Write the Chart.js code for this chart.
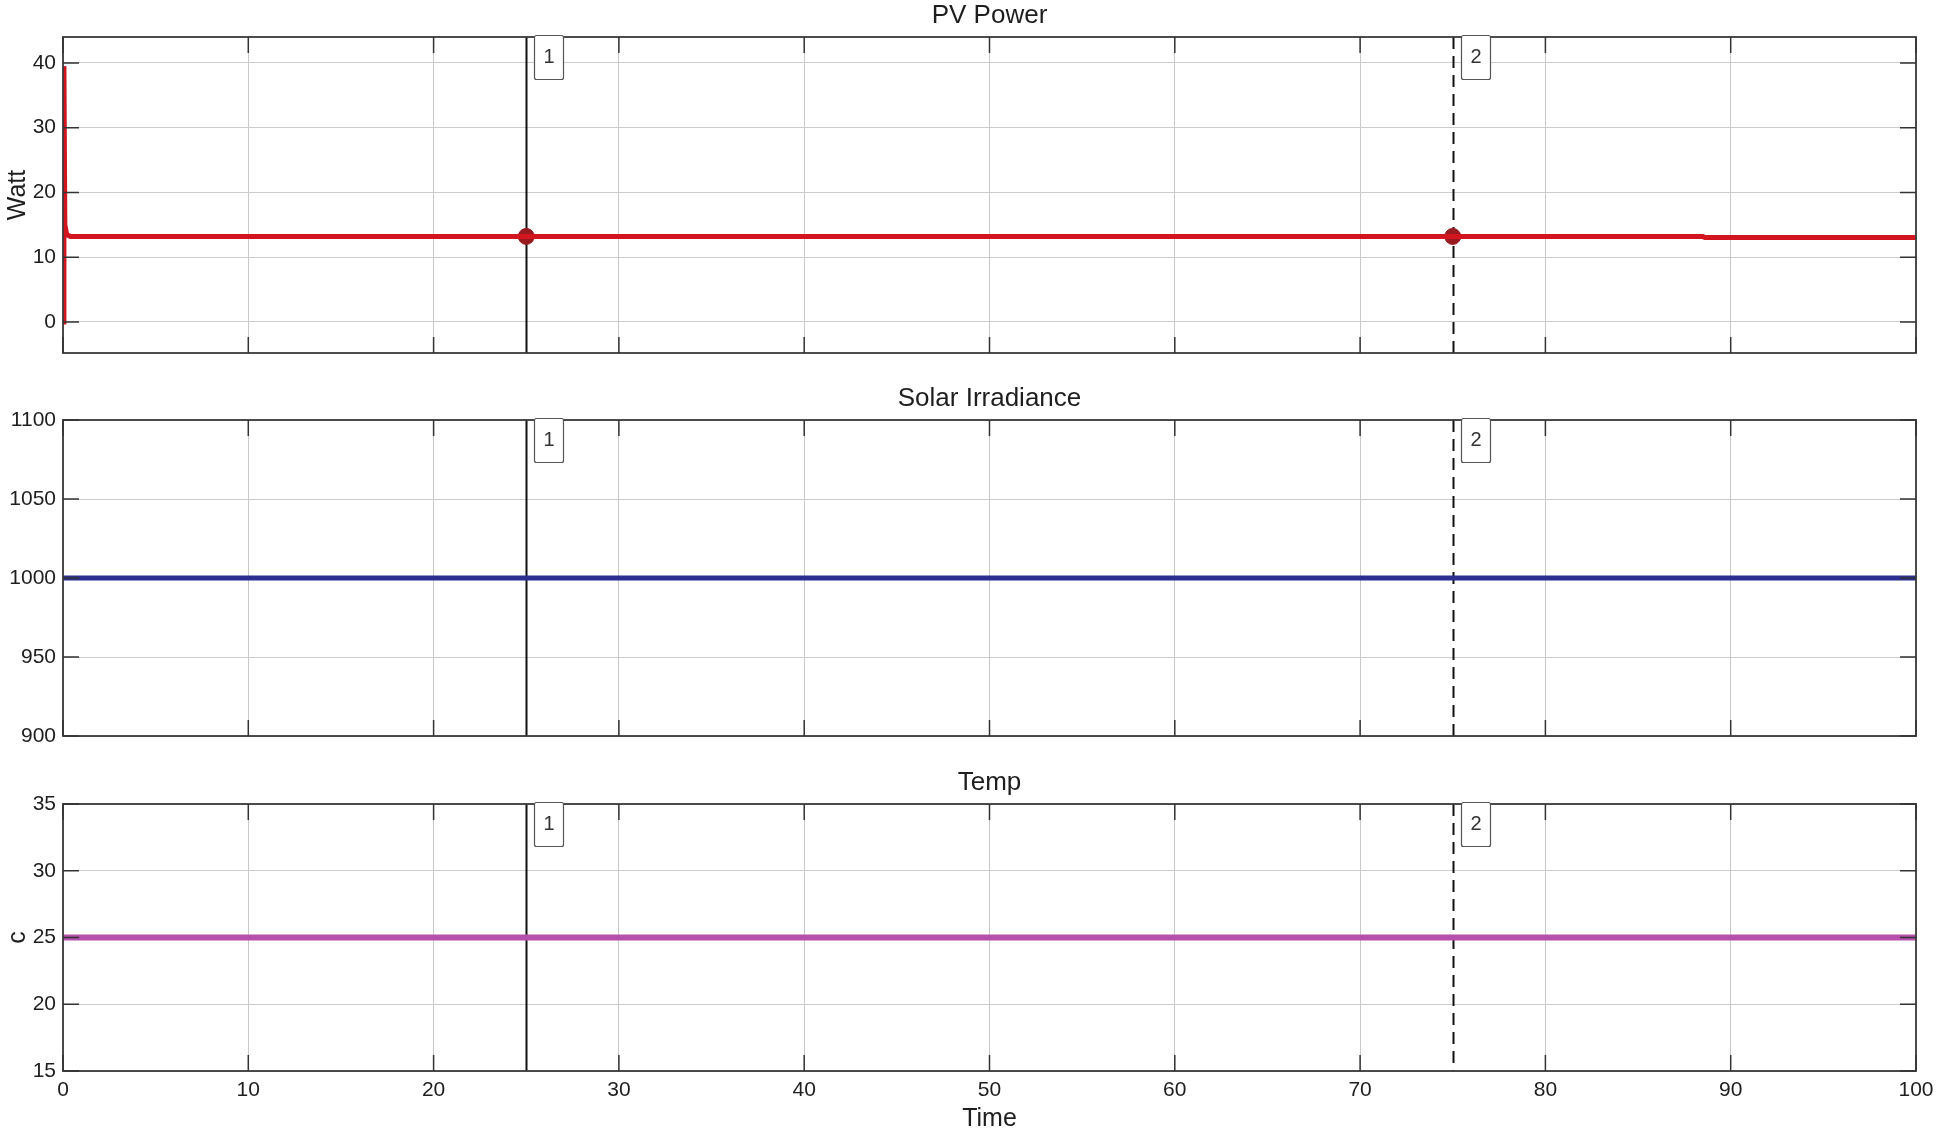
<!DOCTYPE html>
<html>
<head>
<meta charset="utf-8">
<title>PV Power / Solar Irradiance / Temp</title>
<script src="https://cdn.jsdelivr.net/npm/chart.js@4.4.1/dist/chart.umd.min.js"></script>
<style>
  html, body { margin: 0; padding: 0; background: #fff; }
  #wrap { position: relative; width: 1938px; height: 1137px; }
  #wrap canvas { position: absolute; left: 0; }
</style>
</head>
<body>
<div id="wrap">
  <canvas id="pvChart" width="1938" height="380" style="top:0px"></canvas>
  <canvas id="irrChart" width="1938" height="380" style="top:380px"></canvas>
  <canvas id="tempChart" width="1938" height="377" style="top:760px"></canvas>
</div>
<script>
// shared time axis + the two cursors
var timeTicks = [0, 10, 20, 30, 40, 50, 60, 70, 80, 90, 100];
var cursorTimes = [25, 75];
var cursorNames = ['1', '2'];

// PV Power (Watt)
var pvTime = [0, 0.05, 0.1, 0.2, 0.4, 88.5, 88.6, 100];
var pvWatt = [0, 39.5, 15, 13.5, 13.2, 13.2, 13.05, 13.05];
var pvCursorWatt = [13.2, 13.2];
var pvTicks = [0, 10, 20, 30, 40];

// Solar Irradiance
var irrTime = [0, 100];
var irrValue = [1000, 1000];
var irrTicks = [900, 950, 1000, 1050, 1100];

// Temp (c)
var tempTime = [0, 100];
var tempValue = [25, 25];
var tempTicks = [15, 20, 25, 30, 35];

var FONT = "'Liberation Sans', Arial, sans-serif";
var TEXT = '#1e1e1e';

Chart.defaults.font.family = FONT;
Chart.defaults.color = TEXT;

function toPoints(xs, ys) {
    return xs.map(function (x, i) { return { x: x, y: ys[i] }; });
}

// draws title, frame, inward ticks, cursors and cursor labels
var panelDecor = {
    id: 'panelDecor',
    beforeDatasetsDraw: function (chart) {
        var ctx = chart.ctx, a = chart.chartArea, xs = chart.scales.x;
        ctx.save();
        ctx.strokeStyle = '#111';
        ctx.lineWidth = 2;
        cursorTimes.forEach(function (t, i) {
            var px = Math.round(xs.getPixelForValue(t)) + 0.5;
            ctx.setLineDash(i === 1 ? [12, 7] : []);
            ctx.beginPath();
            ctx.moveTo(px, a.top);
            ctx.lineTo(px, a.bottom);
            ctx.stroke();
        });
        ctx.restore();
    },
    afterDraw: function (chart, args, opts) {
        var ctx = chart.ctx, a = chart.chartArea;
        var xs = chart.scales.x, ys = chart.scales.y;
        ctx.save();

        // frame
        ctx.strokeStyle = '#3a3a3a';
        ctx.lineWidth = 1.8;
        ctx.strokeRect(a.left, a.top, a.right - a.left, a.bottom - a.top);

        // inward tick marks
        ctx.strokeStyle = '#333';
        ctx.lineWidth = 1.5;
        ctx.beginPath();
        opts.yTicks.forEach(function (v) {
            var py = ys.getPixelForValue(v);
            ctx.moveTo(a.left, py); ctx.lineTo(a.left + 16, py);
            ctx.moveTo(a.right, py); ctx.lineTo(a.right - 16, py);
        });
        timeTicks.forEach(function (v) {
            var px = xs.getPixelForValue(v);
            ctx.moveTo(px, a.bottom); ctx.lineTo(px, a.bottom - 16);
            ctx.moveTo(px, a.top); ctx.lineTo(px, a.top + 16);
        });
        ctx.stroke();

        // title
        ctx.fillStyle = TEXT;
        ctx.font = '26px ' + FONT;
        ctx.textAlign = 'center';
        ctx.textBaseline = 'middle';
        ctx.fillText(opts.title, (a.left + a.right) / 2, a.top - 21);

        // cursor label boxes
        ctx.font = '20px ' + FONT;
        cursorTimes.forEach(function (t, i) {
            var px = Math.round(xs.getPixelForValue(t));
            var bx = px + 8.5, by = a.top - 1.5;
            ctx.fillStyle = '#fff';
            ctx.strokeStyle = '#555';
            ctx.lineWidth = 1.2;
            ctx.beginPath();
            ctx.roundRect(bx, by, 29, 44, 2);
            ctx.fill();
            ctx.stroke();
            ctx.fillStyle = '#333';
            ctx.fillText(cursorNames[i], bx + 14.5, by + 22);
        });
        ctx.restore();
    }
};

function makePanel(canvasId, cfg) {
    var datasets = [{
        data: toPoints(cfg.time, cfg.values),
        borderColor: cfg.color,
        borderWidth: cfg.lineWidth,
        pointRadius: 0,
        tension: 0
    }];
    if (cfg.dots) {
        datasets.push({
            data: toPoints(cursorTimes, cfg.dots),
            showLine: false,
            pointRadius: 8,
            pointBackgroundColor: '#981a20',
            pointBorderColor: '#981a20'
        });
    }

    var xAxis = {
        type: 'linear',
        min: 0,
        max: 100,
        afterBuildTicks: function (scale) {
            scale.ticks = timeTicks.map(function (v) { return { value: v }; });
        },
        grid: { color: '#c8c8c8', lineWidth: 1, drawTicks: false },
        border: { display: false },
        ticks: { display: false }
    };
    if (cfg.showTime) {
        xAxis.ticks = {
            display: true, padding: 7, maxRotation: 0, autoSkip: false,
            font: { size: 21 }, color: TEXT,
            callback: function (v) { return String(v); }
        };
        xAxis.title = { display: true, text: 'Time', font: { size: 25 }, color: TEXT, padding: { top: 0, bottom: 3 } };
        xAxis.afterFit = function (scale) {
            scale.height = 66;
            scale.paddingLeft = 0;
            scale.paddingRight = 0;
        };
    } else {
        xAxis.afterFit = function (scale) { scale.height = 0; };
    }

    var yAxis = {
        min: cfg.yMin,
        max: cfg.yMax,
        afterBuildTicks: function (scale) {
            scale.ticks = cfg.yTicks.map(function (v) { return { value: v }; });
        },
        afterFit: function (scale) { scale.width = 63; },
        grid: { color: '#cccccc', lineWidth: 1, drawTicks: false },
        border: { display: false },
        ticks: {
            padding: 7, font: { size: 21 }, color: TEXT,
            callback: function (v) { return String(v); }
        },
        title: { display: !!cfg.yLabel, text: cfg.yLabel || '', font: { size: 25 }, color: TEXT, padding: { top: 3, bottom: 0 } }
    };

    return new Chart(document.getElementById(canvasId), {
        type: 'line',
        data: { datasets: datasets },
        options: {
            responsive: false,
            animation: false,
            devicePixelRatio: 1,
            layout: { padding: cfg.padding },
            scales: { x: xAxis, y: yAxis },
            plugins: {
                legend: { display: false },
                tooltip: { enabled: false },
                panelDecor: { title: cfg.title, yTicks: cfg.yTicks }
            }
        },
        plugins: [panelDecor]
    });
}

makePanel('pvChart', {
    title: 'PV Power', yLabel: 'Watt',
    time: pvTime, values: pvWatt, dots: pvCursorWatt,
    color: '#d3151f', lineWidth: 5,
    yMin: -4.8, yMax: 44, yTicks: pvTicks,
    padding: { top: 37, right: 22, bottom: 27, left: 0 }
});

makePanel('irrChart', {
    title: 'Solar Irradiance',
    time: irrTime, values: irrValue,
    color: '#2b2f8f', lineWidth: 5,
    yMin: 900, yMax: 1100, yTicks: irrTicks,
    padding: { top: 40, right: 22, bottom: 24, left: 0 }
});

makePanel('tempChart', {
    title: 'Temp', yLabel: 'c', showTime: true,
    time: tempTime, values: tempValue,
    color: '#b64fae', lineWidth: 6,
    yMin: 15, yMax: 35, yTicks: tempTicks,
    padding: { top: 44, right: 22, bottom: 0, left: 0 }
});
</script>
</body>
</html>
